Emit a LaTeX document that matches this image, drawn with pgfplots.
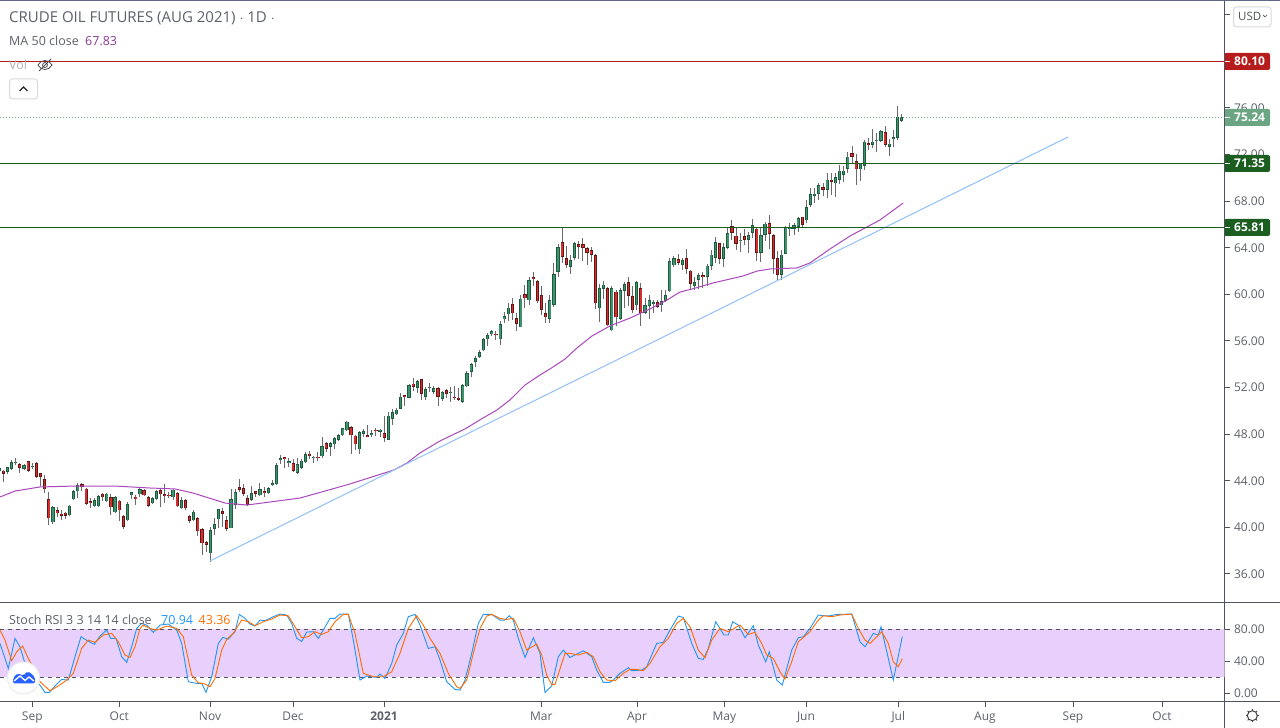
\documentclass[border=0pt]{standalone}
\usepackage{pgfplots}
\usepackage{pgfplotstable}
\usepackage{fontspec}
\setmainfont{Open Sans}
\pgfplotsset{compat=1.18}
\definecolor{axisgray}{HTML}{50535E}
\definecolor{txt}{HTML}{5D606B}
\definecolor{upfill}{HTML}{3F9270}
\definecolor{upedge}{HTML}{1C5C3C}
\definecolor{dnfill}{HTML}{D32F2F}
\definecolor{dnedge}{HTML}{641414}
\definecolor{wick}{HTML}{6A6A6A}
\definecolor{mapurple}{HTML}{AB47BC}
\definecolor{trend}{HTML}{90BFF9}
\definecolor{lvlgreen}{HTML}{1B5E20}
\definecolor{lvlred}{HTML}{B71C1C}
\definecolor{lastgreen}{HTML}{6BA583}
\definecolor{band}{HTML}{E8CFFC}
\definecolor{kblue}{HTML}{2196F3}
\definecolor{dorange}{HTML}{FF6D00}
\definecolor{tvblue}{HTML}{2962FF}

% bars: i low high bot top
\pgfplotstableread{
i low high bot top
-1 44.79 45.13 44.85 45.07
1 44.59 45.22 44.79 45.16
2 44.93 45.79 45.02 45.59
3 45.36 45.93 45.50 45.62
5 44.93 45.42 45.05 45.33
7 44.99 45.56 45.18 45.30
12 40.30 41.85 40.45 41.73
16 40.99 41.93 41.05 41.87
17 42.36 43.22 42.42 43.10
18 42.50 43.85 43.10 43.62
22 41.76 42.50 41.82 42.33
23 41.76 42.79 41.82 42.67
25 42.19 42.99 42.25 42.90
27 41.25 42.70 41.30 42.59
30 40.56 42.19 40.62 41.99
31 42.42 43.05 42.76 43.02
33 42.65 43.42 42.85 43.27
36 42.02 42.59 42.07 42.50
37 42.33 43.22 42.42 43.10
41 42.36 43.27 42.59 43.25
43 41.59 42.65 41.65 42.33
46 40.56 41.47 40.62 41.36
50 37.07 40.02 37.76 39.76
51 39.36 40.82 39.90 40.27
52 39.93 41.56 40.70 41.56
55 39.93 43.27 39.93 42.42
56 41.59 43.27 41.96 43.02
60 42.27 43.56 42.39 42.93
62 42.70 43.79 42.76 43.27
64 42.87 43.45 42.93 43.36
65 43.59 44.07 43.65 43.79
66 43.65 45.50 43.70 45.33
67 45.42 46.19 45.82 45.96
69 45.16 45.96 45.52 45.67
71 44.59 45.96 44.70 45.42
72 45.00 45.86 45.12 45.72
73 45.52 46.43 45.57 46.29
75 45.52 46.14 45.92 46.06
77 45.94 47.74 46.09 46.97
79 46.09 47.37 46.94 47.23
80 46.74 47.74 47.12 47.66
81 47.40 48.03 47.52 47.92
82 47.86 48.54 47.89 48.51
83 48.29 49.12 48.32 49.06
86 46.32 48.29 46.69 48.17
87 47.72 48.43 48.03 48.26
89 47.72 48.37 47.94 48.09
91 47.74 48.43 48.20 48.37
93 47.54 49.92 47.54 49.57
94 48.80 50.14 49.34 49.89
95 49.63 50.23 49.69 50.09
96 50.14 51.57 50.20 51.20
98 51.09 52.32 51.14 52.20
100 51.57 52.66 52.00 52.57
102 50.94 52.03 51.23 51.86
103 51.66 52.37 51.96 52.08
104 51.46 52.14 51.66 51.97
106 50.89 51.74 51.06 51.60
108 50.80 52.09 51.54 51.66
111 50.66 52.32 50.80 52.20
112 52.09 53.46 52.12 53.23
113 52.94 54.09 53.34 54.00
114 53.74 54.72 54.20 54.54
115 54.52 55.23 54.66 55.06
116 55.13 56.25 55.19 56.16
117 55.59 56.68 56.16 56.50
118 56.39 56.96 56.56 56.85
120 55.68 57.68 56.13 57.45
121 57.53 58.45 57.85 58.13
122 57.68 59.25 58.28 58.85
125 57.16 59.96 57.16 59.62
127 59.10 61.53 59.50 61.22
132 57.53 59.96 57.93 59.50
133 58.88 62.68 59.13 61.73
134 61.48 64.33 61.96 64.05
137 61.76 63.39 62.39 62.93
138 62.96 64.53 63.16 64.39
144 57.59 60.90 58.79 60.53
145 59.62 61.16 60.50 60.82
147 56.90 60.68 56.93 60.53
149 57.82 60.53 57.90 60.36
150 58.82 61.10 60.33 60.88
153 58.68 61.16 59.05 61.05
155 58.30 59.68 58.42 59.08
156 57.90 59.96 59.02 59.50
157 58.39 59.53 59.18 59.32
159 58.45 60.39 59.05 59.42
160 59.33 60.39 59.39 59.93
161 60.19 63.10 60.25 62.85
162 62.39 63.30 62.48 63.10
164 62.10 63.10 62.56 62.93
167 60.39 61.47 60.73 61.07
168 60.47 61.87 61.27 61.67
170 60.73 62.62 61.53 62.45
171 62.10 63.82 62.47 63.39
172 62.67 64.90 63.16 64.50
174 62.33 64.39 63.07 64.07
175 63.87 65.76 64.02 65.27
178 63.67 65.25 64.57 64.70
180 63.53 65.39 64.67 65.10
181 64.82 66.50 65.27 65.93
183 62.82 65.67 63.59 65.10
184 64.62 66.19 65.13 66.05
188 61.25 63.82 61.70 63.39
189 63.45 65.87 63.50 65.82
190 65.02 66.16 65.62 65.75
191 65.10 66.10 65.65 65.96
192 65.39 66.62 65.79 66.53
194 66.10 68.10 66.36 67.50
195 67.49 69.12 67.69 68.60
196 67.83 69.12 68.46 68.63
197 68.06 69.60 68.63 69.38
199 68.26 70.40 69.00 69.83
201 68.40 70.40 69.52 70.06
202 69.49 71.12 69.83 70.60
203 69.63 70.98 70.29 70.60
204 70.46 72.18 70.78 71.80
207 69.69 71.26 70.72 71.26
208 70.69 73.26 71.06 73.09
210 72.60 74.18 72.83 73.09
211 72.20 73.89 73.16 73.29
212 73.12 74.12 73.20 74.03
214 71.92 73.32 72.69 72.92
215 72.69 74.12 73.34 73.47
216 73.26 76.18 73.46 75.20
217 74.83 75.49 74.92 75.20
}\upbars

\pgfplotstableread{
i low high bot top
0 43.93 44.93 44.62 44.87
4 44.70 45.56 45.13 45.42
6 44.79 45.73 44.87 45.67
8 44.25 45.59 44.36 45.50
9 43.56 44.70 44.36 44.65
10 42.99 44.50 43.27 44.13
11 40.22 43.05 40.79 42.42
13 40.90 41.73 41.22 41.47
14 40.65 41.50 41.02 41.16
15 40.76 41.36 41.02 41.27
19 43.16 43.85 43.50 43.70
20 41.96 43.39 42.02 43.33
21 41.70 42.50 42.13 42.25
24 42.25 42.99 42.59 42.90
26 41.10 42.87 41.73 42.59
28 40.59 42.36 41.47 42.30
29 39.82 41.07 40.05 40.96
32 41.96 42.76 42.42 42.65
34 42.70 43.33 42.76 43.19
35 41.79 42.70 41.87 42.59
38 41.79 43.27 42.85 43.19
39 42.13 43.73 42.73 42.85
40 42.53 43.05 42.66 42.80
42 41.76 43.05 41.82 42.93
44 41.45 42.42 41.65 42.33
45 40.39 41.10 40.59 40.96
47 39.27 40.87 39.67 40.79
48 37.65 39.93 38.65 39.85
49 37.90 38.79 38.53 38.73
53 40.07 41.65 41.19 41.39
54 39.73 41.00 39.90 40.62
57 43.07 44.13 43.25 43.45
58 42.70 43.73 42.90 43.36
59 41.87 42.76 41.96 42.50
61 42.65 43.13 42.90 43.10
63 42.59 43.50 42.99 43.13
68 45.13 46.07 45.90 46.02
70 44.79 45.90 44.87 45.50
74 45.86 46.54 46.09 46.32
76 45.66 46.49 45.92 46.06
78 46.46 47.37 46.77 47.23
84 46.32 48.66 47.89 48.60
85 46.66 47.92 47.12 47.86
88 47.72 48.80 47.72 47.92
90 47.86 48.51 48.24 48.37
92 47.34 49.60 47.69 48.09
97 50.43 51.37 51.20 51.34
99 51.74 52.80 52.09 52.32
101 50.94 52.74 51.49 52.72
105 50.43 52.03 51.23 51.94
107 51.09 51.89 51.49 51.77
109 50.94 52.14 51.09 51.22
110 50.89 52.00 50.97 51.12
119 56.10 56.82 56.48 56.62
123 57.82 59.68 58.36 59.16
124 56.82 58.39 57.50 57.96
126 58.79 60.82 59.65 60.02
128 60.73 61.88 61.32 61.45
129 59.25 61.22 59.39 61.13
130 58.25 60.68 58.70 59.93
131 57.53 59.25 58.02 58.39
135 62.68 65.76 63.25 64.48
136 62.25 64.16 62.56 63.10
139 63.02 64.62 64.10 64.33
140 62.90 64.82 64.02 64.33
141 62.53 64.10 63.59 63.96
142 62.82 64.10 63.42 63.79
143 58.73 63.45 59.22 63.36
146 57.25 60.62 57.33 60.53
148 57.25 60.39 58.02 60.22
151 59.02 61.53 59.90 61.05
152 58.39 60.68 58.62 59.85
154 57.30 60.96 58.39 60.53
158 58.82 59.53 58.96 59.33
163 62.53 63.45 62.70 63.02
165 61.73 63.88 62.22 63.10
166 60.39 62.10 60.93 62.02
169 60.53 61.96 61.45 61.67
173 62.62 64.45 63.07 64.39
176 64.67 66.39 65.30 65.87
177 63.82 65.76 64.33 65.02
179 64.25 65.59 64.67 64.99
182 62.90 65.67 63.59 65.62
185 63.87 66.82 65.22 66.13
186 61.76 65.19 63.07 65.10
187 61.25 63.73 61.70 63.10
193 65.82 66.67 65.96 66.65
198 68.46 69.55 68.98 69.20
200 68.55 70.46 69.66 69.83
205 71.20 72.75 71.80 72.12
206 69.40 72.06 70.72 71.43
209 72.40 73.40 72.78 73.00
213 72.69 74.46 72.83 73.92
}\downbars

% x in chart pixels along the time scale
\pgfplotstableread{
x ma
0 42.61
15 43.12
40 43.47
75 43.55
115 43.55
150 43.38
175 43.30
193 42.95
225 42.09
247 41.92
270 42.18
300 42.52
325 43.12
350 43.73
375 44.41
394 44.93
407 45.53
420 46.39
440 47.42
465 48.45
483 49.39
497 50.08
510 50.94
525 52.22
540 53.08
550 53.60
565 54.45
577 55.40
592 56.43
610 57.29
630 57.97
650 58.75
667 59.52
680 60.20
692 60.46
713 60.98
743 61.58
757 62.00
770 62.18
797 62.27
810 62.70
830 63.90
850 65.01
865 65.70
880 66.39
903 67.83
}\matable

\pgfplotstableread{
x k
0 62.5
8.3 31.1
15 68.8
20 58.3
25 37.4
31.7 16.5
40 10.2
45 1
49.3 1
55 9
61.7 17.3
68.3 16.5
75 45.8
81 70.9
87.3 65.9
94.3 61.3
100 71.7
106.7 79.2
110.7 68.8
116 68.8
121.7 45.8
126.7 38.7
131.7 58.3
136.7 81.3
141.7 87.6
146.7 85.5
153.3 76.3
160 85.5
168.3 86.8
176.7 79.2
181.7 62.5
188.3 14.4
196.7 12.3
201.7 12.3
206 1
211.7 20.7
218.3 62.5
222.7 70
228.3 67.9
235 77.2
239.3 98.9
245 93.9
250 86.8
255 84.3
260 91.8
265 91
273.3 96
280 99.3
286.7 98.1
291.7 87.6
296.7 68.8
301.7 65
306.7 76.7
313.3 77.2
318.3 68.8
323.3 79.2
330 93.9
335 93.9
340 99.3
348.3 99.3
353.3 66.7
360 16.5
366.7 21.5
376.7 19.8
380 24
385 18.6
391.7 37.4
396.7 60.4
403.3 75.1
408.3 96
415 98.9
420 85.5
428.3 56.2
435 58.3
440 41.6
446.7 14.4
455 4.8
460 3.9
465 16.5
471.7 50
478.3 87.6
483.3 98.9
491.7 98.9
500 91.8
505 91.8
509.3 97.2
513.3 91.8
518.3 68.8
525 44.9
533.3 69.6
540 50
545 1
551.7 9
558.3 45.8
563.3 54.1
570 44.9
583.3 53.3
591.7 45.8
596.7 29
603.3 13.6
610 13.6
613.3 16.5
620 24.9
628.3 32
631.7 28.2
641.7 29
646.7 33.2
656.7 62.5
663.3 63.8
670 79.2
678.3 96.8
683.3 95.1
691.7 62.5
698.3 43.7
703.3 42.4
708.3 56.2
715.7 89.7
724 73
728.3 73
732.7 89.7
738.3 85.5
745 69.6
753.3 84.7
758.3 60.4
765.7 39.5
769.3 52
776.7 16.5
782.3 10.2
791.7 54.1
798.3 69.6
803.3 70.9
810 81.3
818.3 98.1
823.3 97.2
830 97.2
836.7 98.9
851.7 99.3
860 64.6
865 58.3
873.3 75.1
878.3 73
881 83.4
893.3 16.5
902.3 70.94
}\ktable

\pgfplotstableread{
x d
0 79.2
5 66.7
11.7 40.8
16.7 52
22.7 59.2
26.7 47.9
31.7 35.3
40 14.4
50 3.1
58.3 9
66.7 16.5
73.3 24.9
81.7 56.2
88.3 66.7
95 63.8
103.3 73
111.7 75.1
118.3 64.6
125 47.9
130 44.9
135 58.3
140 81.3
143.3 85.5
150 81.3
156.7 79.2
166.7 84.3
176.7 81.3
183.3 70.9
191.7 22.8
198.3 13.1
205 11.5
210 8.1
215 18.6
221.7 54.1
226.7 67.5
233.3 75.1
241.7 91.8
248.3 89.7
255 84.7
263.3 89.7
271.7 93.1
280 98.1
288.3 97.2
295 83.4
301.7 69.6
308.3 70.9
315 77.2
321.7 73.8
328.3 77.2
335 89.7
343.3 98.9
348.3 98.9
355 75.1
363.3 24.9
373.3 20.7
383.3 20.7
391.7 26.9
400 50
408.3 81.3
416.7 97.2
423.3 85.5
430 68.8
440 50
448.3 24.9
456.7 8.1
460 6
466.7 16.5
473.3 50
480 81.3
486.7 96.8
491.7 98.9
500 93.9
506.7 92.6
513.3 93.9
520 77.2
526.7 54.1
536.7 61.7
541.7 47.9
546.7 22.8
551.7 11
555 11
565 50
570 50
578.3 47.9
586.7 51.2
593.3 45.8
600 26.9
606.7 16.5
615 15.6
623.3 24.9
630 29.9
636.7 29.9
643.3 28.2
650 37.4
660 58.3
668.3 68.8
676.7 87.6
683.3 93.9
690 83.4
698.3 54.1
705 44.5
711.7 66.7
720 81.3
728.3 77.2
740 85.5
748.3 73.8
755 76.3
761.7 62.5
766.7 47.9
773.3 43.7
780 26.9
785 17.7
791.7 39.5
798.3 64.6
810 77.2
818.3 91.8
823.3 97.2
831.7 96
840 98.1
851.7 99.3
858.3 81.3
865 66.7
870 62.5
881.7 77.2
888.3 62.5
893.3 39.5
898.3 33.2
902.3 43.36
}\dtable

\newcommand{\pricebox}[3]{% y from top, colour, text
  \fill[#2,rounded corners=2pt] (1225pt,{728pt-#1pt+8.5pt}) rectangle (1270pt,{728pt-#1pt-8.5pt});
  \fill[#2] (1225pt,{728pt-#1pt+8.5pt}) rectangle (1229pt,{728pt-#1pt-8.5pt});
  \draw[white,line width=1pt] (1225pt,{728pt-#1pt}) -- (1230pt,{728pt-#1pt});
  \node[anchor=west,inner sep=0pt,text=white,font=\fontsize{12}{14}\selectfont\bfseries] at (1234pt,{728pt-#1pt}) {#3};
}
\pgfplotsset{
  chartaxis/.style={
    scale only axis, width=1224.5pt, xmin=0, xmax=1224.5, clip=true,
    axis line style={axisgray,line width=1pt},
    tick style={axisgray,line width=1pt},
    major tick length=5pt, tick align=outside,
    y tick label style={xshift=1pt,text=txt,font=\fontsize{12}{14}\selectfont,
      /pgf/number format/.cd,fixed,fixed zerofill,precision=2,assume math mode=true},
    x tick label style={text=txt,font=\fontsize{12}{14}\selectfont,yshift=-1pt},
  },
  wicks/.style={draw=none,mark=none,forget plot,error bars/.cd,y dir=plus,y explicit,error mark=none,
    error bar style={line width=1pt,draw=wick,solid}},
  edge/.style={draw=none,mark=none,forget plot,error bars/.cd,y dir=plus,y explicit,error mark=none,
    error bar style={line width=3.2pt,draw=#1,solid}},
  inner/.style={draw=none,mark=none,forget plot,error bars/.cd,y dir=plus,y explicit,error mark=none,
    error bar style={line width=1.5pt,draw=#1,solid}},
}
\begin{document}
\begin{tikzpicture}
\useasboundingbox (0pt,0pt) rectangle (1280pt,728pt);
\begin{axis}[chartaxis,at={(0pt,125pt)},anchor=south west,height=603pt,
  ymin=33.51,ymax=85.27,
  axis x line=none,axis y line*=right,
  ytick={36,40,44,48,52,56,60,64,68,72,76},
  extra y ticks={80,84},extra y tick labels={},
  ]
\addplot[wicks] table[x expr=3.3+4.14*\thisrow{i},y=low,y error plus expr=\thisrow{high}-\thisrow{low}] {\upbars};
\addplot[wicks] table[x expr=3.3+4.14*\thisrow{i},y=low,y error plus expr=\thisrow{high}-\thisrow{low}] {\downbars};
\addplot[edge=upedge] table[x expr=3.3+4.14*\thisrow{i},y=bot,y error plus expr=\thisrow{top}-\thisrow{bot}] {\upbars};
\addplot[inner=upfill] table[x expr=3.3+4.14*\thisrow{i},y expr=\thisrow{bot}+0.05,y error plus expr={max(\thisrow{top}-\thisrow{bot}-0.1,0)}] {\upbars};
\addplot[edge=dnedge] table[x expr=3.3+4.14*\thisrow{i},y=bot,y error plus expr=\thisrow{top}-\thisrow{bot}] {\downbars};
\addplot[inner=dnfill] table[x expr=3.3+4.14*\thisrow{i},y expr=\thisrow{bot}+0.05,y error plus expr={max(\thisrow{top}-\thisrow{bot}-0.1,0)}] {\downbars};
\addplot[mapurple,line width=1pt] table[x=x,y=ma] {\matable};
\addplot[trend,line width=1pt] coordinates {(210,37.12) (1068,73.51)};
\addplot[lvlred,line width=1pt] coordinates {(0,79.99) (1225,79.99)};
\addplot[lvlgreen,line width=1pt] coordinates {(0,71.237) (1225,71.237)};
\addplot[lvlgreen,line width=1pt] coordinates {(0,65.74) (1225,65.74)};
\addplot[lastgreen,line width=1pt,dash pattern=on 1pt off 2pt] coordinates {(0,75.185) (1225,75.185)};
\end{axis}

\begin{axis}[chartaxis,at={(0pt,26pt)},anchor=south west,height=99pt,
  ymin=-11.04,ymax=113.2,
  axis x line*=bottom,axis y line*=right,
  ytick={0,40,80},
  xtick={32.3,119.3,210,293,384,541.3,637,724.3,806,898.3,985,1073,1162},
  xticklabels={Sep,Oct,Nov,Dec,\textbf{2021},Mar,Apr,May,Jun,Jul,Aug,Sep,Oct},
  ]
\addplot[draw=none,fill=band,forget plot] coordinates {(0,20) (1225,20) (1225,80) (0,80)} --cycle;
\addplot[axisgray,line width=1pt,dash pattern=on 4pt off 4pt] coordinates {(0,80) (1225,80)};
\addplot[axisgray,line width=1pt,dash pattern=on 4pt off 4pt] coordinates {(0,20) (1225,20)};
\addplot[kblue,line width=0.9pt] table[x=x,y=k] {\ktable};
\addplot[dorange,line width=0.9pt] table[x=x,y=d] {\dtable};
\end{axis}

% frame
\draw[color=black!80!blue!60!white,line width=1pt] (0pt,727.5pt) -- (1280pt,727.5pt);
\draw[axisgray,line width=1pt] (0pt,125pt) -- (1280pt,125pt);
\draw[axisgray,line width=1pt] (0pt,26pt) -- (1280pt,26pt);
\draw[axisgray,line width=1pt] (1224.5pt,26pt) -- (1224.5pt,0pt);

% price boxes
\pricebox{61.5}{lvlred}{80.10}
\pricebox{117.5}{lastgreen}{75.24}
\pricebox{163.5}{lvlgreen}{71.35}
\pricebox{227.5}{lvlgreen}{65.81}

% USD button
\filldraw[fill=white,draw=black!15,line width=1pt,rounded corners=3pt] (1233.5pt,721pt) rectangle (1271pt,701pt);
\node[anchor=west,inner sep=0pt,text=axisgray,font=\fontsize{11.5}{14}\selectfont] at (1238pt,711.5pt) {USD};
\draw[axisgray,line width=0.7pt] (1263pt,713pt) -- (1265pt,711pt) -- (1267pt,713pt);

% headings
\node[anchor=base west,inner sep=0pt,text=txt,font=\fontsize{15}{17}\selectfont] at (9pt,705pt) {CRUDE OIL FUTURES (AUG 2021) $\cdot$ 1D $\cdot$};
\node[anchor=base west,inner sep=0pt,text=txt,font=\fontsize{12.5}{14}\selectfont] at (9pt,682pt) {MA 50 close};
\node[anchor=base west,inner sep=0pt,text=mapurple!80!black,font=\fontsize{12.5}{14}\selectfont] at (85pt,682pt) {67.83};
\node[anchor=base west,inner sep=0pt,text=black!30,font=\fontsize{12.5}{14}\selectfont] at (9pt,658.5pt) {Vol};
% eye
\draw[black!70,line width=0.8pt] (38pt,663pt) .. controls (41pt,669pt) and (49pt,669pt) .. (52pt,663pt) .. controls (49pt,657pt) and (41pt,657pt) .. (38pt,663pt);
\draw[black!70,line width=0.8pt] (45pt,663pt) circle (2.5pt);
\draw[black!70,line width=0.8pt] (39pt,657pt) -- (51pt,669pt);
% collapse button
\filldraw[fill=white,draw=black!15,line width=1pt,rounded corners=3pt] (9.5pt,649pt) rectangle (37.5pt,629pt);
\draw[black!85,line width=1.2pt] (19.5pt,637pt) -- (23.5pt,641pt) -- (27.5pt,637pt);

% indicator heading
\node[anchor=base west,inner sep=0pt,text=txt,font=\fontsize{12.5}{14}\selectfont] at (9pt,103.5pt) {Stoch RSI 3 3 14 14 close};
\node[anchor=base west,inner sep=0pt,text=kblue,font=\fontsize{12.5}{14}\selectfont] at (161pt,103.5pt) {70.94};
\node[anchor=base west,inner sep=0pt,text=dorange,font=\fontsize{12.5}{14}\selectfont] at (198.5pt,103.5pt) {43.36};

% logo
\filldraw[fill=white,draw=black!8,line width=1pt] (23.5pt,50pt) circle (16pt);
\fill[tvblue,rounded corners=2pt] (13pt,44.5pt) -- (13pt,50pt) -- (18pt,55pt) -- (23pt,52pt) -- (28pt,57pt) -- (35pt,51pt) -- (35pt,44.5pt) -- cycle;
\draw[white,line width=1.3pt] (14pt,47pt) -- (20pt,52pt) -- (25pt,47.5pt) -- (29pt,51pt) -- (34pt,47pt);

% gear
\draw[black!75,line width=1pt] (1252.3pt,12.3pt) circle (5pt);
\foreach \a in {0,45,...,315} \draw[black!75,line width=1pt] (1252.3pt,12.3pt) ++(\a:5pt) -- ++(\a:1.6pt);
\end{tikzpicture}
\end{document}
